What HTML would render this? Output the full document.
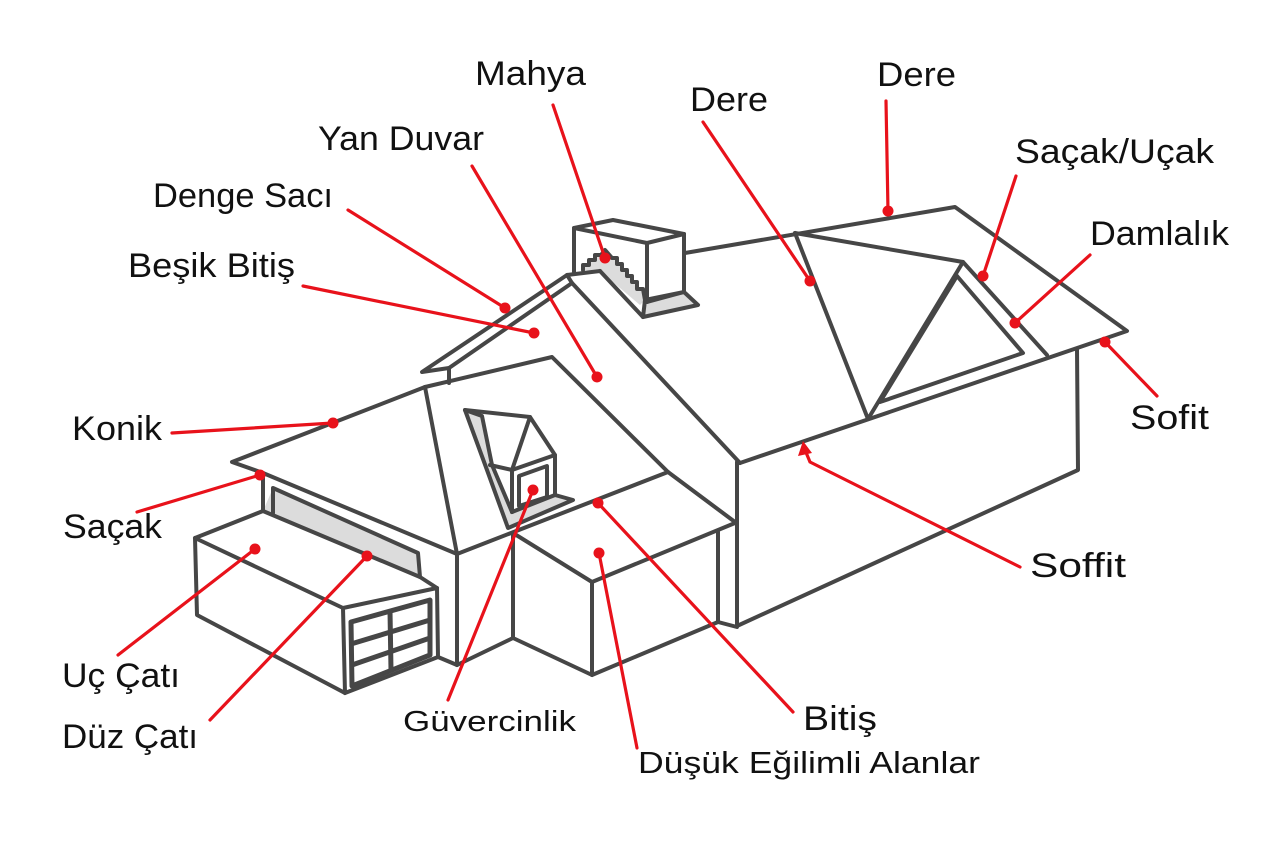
<!DOCTYPE html>
<html>
<head>
<meta charset="utf-8">
<style>
  html,body{margin:0;padding:0;background:#fff;}
  svg{display:block;}
  text{font-family:"Liberation Sans","DejaVu Sans",sans-serif;fill:#111;}
</style>
</head>
<body>
<svg width="1280" height="853" viewBox="0 0 1280 853" xmlns="http://www.w3.org/2000/svg">
  <rect width="1280" height="853" fill="#fff"/>

  <!-- gray fills -->
  <g fill="#dcdcdc" stroke="none">
    <polygon points="273,488 418,553 420,577 263,511"/>
    <polygon points="465,410 482,416 492,465 512,512 508,528 487,470"/>
    <polygon points="512,512 555,495 573,500 508,528"/>
    <polygon points="645,300 684,292 698,305 643,317"/>
    <polygon points="583,270 583,265 589,265 589,260 595,260 595,255 601,255 605,250 612,258 617,258 617,264 622,264 622,270 627,270 627,276 632,276 632,282 637,282 637,289 643,289 645,300 640,305 600,271"/>
  </g>

  <g fill="none" stroke="#464646" stroke-width="4" stroke-linejoin="round" stroke-linecap="round">
    <!-- main block -->
    <polyline points="685,253 955,207 1127,331 740,463"/>
    <polyline points="1077,349 1078,470 737,626 737,462"/>
    <!-- gable + strip -->
    <polyline points="449,383 449,368 422,372 567,275 600,271"/>
    <polyline points="449,368 572,283 740,463"/>
    <line x1="567" y1="275" x2="572" y2="283"/>
    <!-- chimney -->
    <polygon points="574,228 613,220 684,234 647,243"/>
    <line x1="574" y1="228" x2="574" y2="272"/>
    <line x1="647" y1="243" x2="647" y2="302"/>
    <line x1="684" y1="234" x2="684" y2="292"/>
    <polyline points="647,302 684,292"/>
    <polygon points="645,300 684,292 698,305 643,317"/>
    <polyline points="583,270 583,265 589,265 589,260 595,260 595,255 601,255 605,250 612,258 617,258 617,264 622,264 622,270 627,270 627,276 632,276 632,282 637,282 637,289 643,289 645,300"/>
    <polyline points="600,271 643,317"/>
    <!-- right dormer on main roof -->
    <polyline points="795,233 868,419"/>
    <polyline points="795,233 963,262 1047,355"/>
    <polyline points="963,262 868,419"/>
    <polyline points="957,276 1023,353 880,402 957,276"/>

    <!-- hip roof of left wing -->
    <polyline points="425,387 552,357 668,472 735,522"/>
    <polyline points="425,387 232,462 263,473 457,554 668,472"/>
    <line x1="425" y1="387" x2="457" y2="554"/>
    <line x1="457" y1="554" x2="457" y2="665"/>
    <line x1="263" y1="473" x2="263" y2="511"/>

    <!-- low slope box -->
    <polyline points="513,533 513,638 592,675"/>
    <line x1="513" y1="638" x2="457" y2="665"/>
    <polyline points="513,533 592,582 735,523"/>
    <polyline points="592,582 592,675 718,622 737,627"/>
    <line x1="718" y1="532" x2="718" y2="622"/>

    <!-- güvercinlik dormer -->
    <polyline points="465,410 530,417 555,455 555,495"/>
    <polyline points="465,410 487,470 508,528 573,500 555,495 512,512"/>
    <polyline points="465,410 482,416 492,465 512,512"/>
    <polyline points="530,417 512,470 555,455"/>
    <line x1="490" y1="465" x2="512" y2="470"/>
    <line x1="512" y1="470" x2="512" y2="512"/>
    <polygon points="519,476 547,466 547,497 519,506"/>

    <!-- garage -->
    <polyline points="263,511 195,538 197,615 345,693"/>
    <line x1="195" y1="538" x2="343" y2="608"/>
    <polyline points="263,511 420,577 437,588"/>
    <polyline points="273,513 273,488 418,553 420,577"/>
    <polygon points="343,608 437,588 438,657 345,693"/>
    <polyline points="438,657 457,665"/>
  </g>
  <!-- garage door -->
  <g fill="none" stroke="#464646" stroke-width="5" stroke-linejoin="round">
    <polygon points="351,622 430,600 430,655 352,686"/>
    <line x1="390" y1="611" x2="391" y2="670"/>
    <line x1="351" y1="644" x2="430" y2="620"/>
    <line x1="352" y1="665" x2="430" y2="638"/>
  </g>

  <!-- red leaders -->
  <g stroke="#e8121b" stroke-width="3.2" fill="none" stroke-linecap="round">
    <line x1="553" y1="105" x2="605" y2="258"/>
    <line x1="472" y1="166" x2="597" y2="377"/>
    <line x1="348" y1="210" x2="505" y2="308"/>
    <line x1="303" y1="286" x2="534" y2="333"/>
    <line x1="172" y1="433" x2="333" y2="423"/>
    <line x1="137" y1="512" x2="260" y2="475"/>
    <line x1="118" y1="655" x2="255" y2="549"/>
    <line x1="210" y1="720" x2="367" y2="556"/>
    <line x1="448" y1="700" x2="533" y2="490"/>
    <line x1="637" y1="748" x2="599" y2="553"/>
    <line x1="793" y1="712" x2="598" y2="503"/>
    <polyline points="1020,567 810,462 805,450"/>
    <line x1="1157" y1="396" x2="1105" y2="342"/>
    <line x1="1090" y1="255" x2="1015" y2="323"/>
    <line x1="1016" y1="176" x2="983" y2="276"/>
    <line x1="886" y1="101" x2="888" y2="211"/>
    <line x1="703" y1="122" x2="810" y2="281"/>
  </g>
  <g fill="#e8121b">
    <polygon points="803,441 798,456 812,453"/>
    <circle cx="605" cy="258" r="5.5"/>
    <circle cx="597" cy="377" r="5.5"/>
    <circle cx="505" cy="308" r="5.5"/>
    <circle cx="534" cy="333" r="5.5"/>
    <circle cx="333" cy="423" r="5.5"/>
    <circle cx="260" cy="475" r="5.5"/>
    <circle cx="255" cy="549" r="5.5"/>
    <circle cx="367" cy="556" r="5.5"/>
    <circle cx="533" cy="490" r="5.5"/>
    <circle cx="599" cy="553" r="5.5"/>
    <circle cx="598" cy="503" r="5.5"/>
    <circle cx="1105" cy="342" r="5.5"/>
    <circle cx="1015" cy="323" r="5.5"/>
    <circle cx="983" cy="276" r="5.5"/>
    <circle cx="888" cy="211" r="5.5"/>
    <circle cx="810" cy="281" r="5.5"/>
  </g>

  <!-- labels -->
  <g font-size="34">
    <text x="475" y="85" textLength="111" lengthAdjust="spacingAndGlyphs">Mahya</text>
    <text x="318" y="150" textLength="166" lengthAdjust="spacingAndGlyphs">Yan Duvar</text>
    <text x="153" y="207" textLength="180" lengthAdjust="spacingAndGlyphs">Denge Sacı</text>
    <text x="128" y="277" textLength="167" lengthAdjust="spacingAndGlyphs">Beşik Bitiş</text>
    <text x="72" y="440" textLength="90" lengthAdjust="spacingAndGlyphs">Konik</text>
    <text x="63" y="538" textLength="99" lengthAdjust="spacingAndGlyphs">Saçak</text>
    <text x="62" y="687" textLength="118" lengthAdjust="spacingAndGlyphs">Uç Çatı</text>
    <text x="62" y="748" textLength="136" lengthAdjust="spacingAndGlyphs">Düz Çatı</text>
    <text x="803" y="730" textLength="74" lengthAdjust="spacingAndGlyphs">Bitiş</text>
    <text x="690" y="111" textLength="78" lengthAdjust="spacingAndGlyphs">Dere</text>
    <text x="877" y="86" textLength="79" lengthAdjust="spacingAndGlyphs">Dere</text>
    <text x="1015" y="163" textLength="199" lengthAdjust="spacingAndGlyphs">Saçak/Uçak</text>
    <text x="1090" y="245" textLength="139" lengthAdjust="spacingAndGlyphs">Damlalık</text>
    <text x="1130" y="429" textLength="79" lengthAdjust="spacingAndGlyphs">Sofit</text>
    <text x="1030" y="577" textLength="96" lengthAdjust="spacingAndGlyphs">Soffit</text>
  </g>
  <text x="403" y="731" font-size="29" textLength="173" lengthAdjust="spacingAndGlyphs">Güvercinlik</text>
  <text x="638" y="773" font-size="31" textLength="342" lengthAdjust="spacingAndGlyphs">Düşük Eğilimli Alanlar</text>
</svg>
</body>
</html>
